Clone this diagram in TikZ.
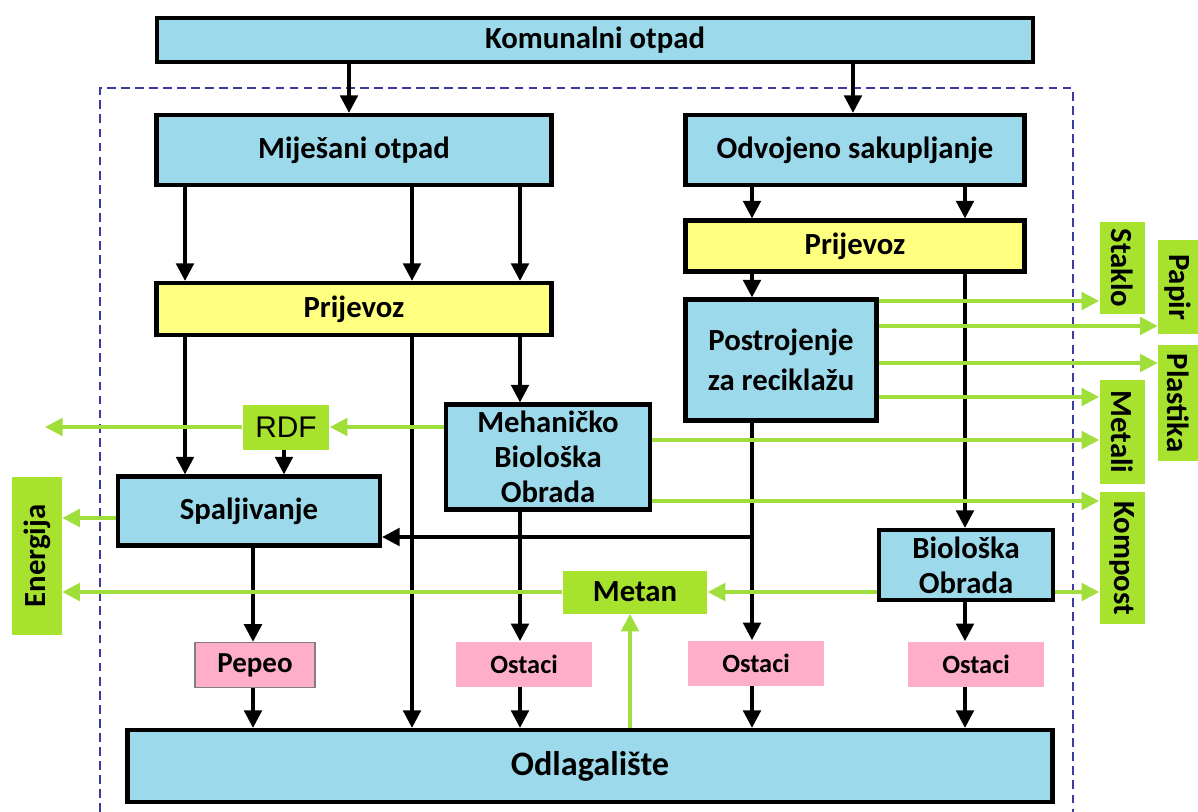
\documentclass[tikz,border=0pt]{standalone}
\usepackage{fontspec}
\setmainfont{Carlito}
\newfontfamily\rdffont{Liberation Sans}
\usetikzlibrary{arrows.meta}
\definecolor{mblue}{RGB}{156,218,235}
\definecolor{myellow}{RGB}{255,255,128}
\definecolor{mgreen}{RGB}{166,226,46}
\definecolor{mgline}{RGB}{160,222,60}
\definecolor{mpink}{RGB}{255,174,201}
\definecolor{mframe}{RGB}{60,60,160}
\tikzset{mbox/.style={draw,line width=2.4pt,fill=mblue,font=\bfseries\fontsize{17.5}{20}\selectfont,align=center,inner sep=0pt}}
\tikzset{mtrans/.style={mbox,fill=myellow}}
\tikzset{mout/.style={fill=mgreen,font=\bfseries\fontsize{17.5}{20}\selectfont,inner sep=0pt}}
\tikzset{mrest/.style={fill=mpink,font=\bfseries\fontsize{15}{17}\selectfont,inner sep=0pt}}
\tikzset{marrow/.style={line width=2pt,-{Triangle[length=10pt,width=10pt]}}}
\tikzset{mgarrow/.style={line width=2pt,mgline,-{Triangle[length=10pt,width=10pt]}}}

\begin{document}
\begin{tikzpicture}[x=0.02cm,y=-0.02cm]
\useasboundingbox (0,0) rectangle (1198,812);
\draw[mframe,line width=1.6pt,dash pattern=on 5pt off 3pt] (100,812) -- (100,88) -- (1073,88) -- (1073,812);

\node[mbox,minimum width=17.52cm,minimum height=0.88cm] (kom) at (595,40) {Komunalni otpad};
\node[mbox,minimum width=7.9cm,minimum height=1.4cm] (mijes) at (354,150) {Miješani otpad};
\node[mbox,minimum width=6.78cm,minimum height=1.4cm] (odvoj) at (855,150) {Odvojeno sakupljanje};
\node[mtrans,minimum width=7.9cm,minimum height=1.04cm] (prijL) at (354,309) {Prijevoz};
\node[mtrans,minimum width=6.78cm,minimum height=1.02cm] (prijR) at (855,246) {Prijevoz};
\node[mbox,minimum width=3.82cm,minimum height=2.42cm,font=\bfseries\fontsize{17.5}{23}\selectfont] (postr) at (781,360) {Postrojenje\\za reciklažu};
\node[mbox,minimum width=4.08cm,minimum height=2.1cm] (mbo) at (548,457) {Mehaničko\\Biološka\\Obrada};
\node[mbox,minimum width=5.24cm,minimum height=1.38cm] (spalj) at (249,511) {Spaljivanje};
\node[mbox,minimum width=3.48cm,minimum height=1.4cm] (bio) at (966,565) {Biološka\\Obrada};
\node[mbox,minimum width=18.5cm,minimum height=1.44cm,font=\bfseries\fontsize{19.5}{22}\selectfont] (odlag) at (590,766) {Odlagalište};

\node[mout,minimum width=1.74cm,minimum height=0.9cm,font=\rdffont\fontsize{17}{20}\selectfont] (rdf) at (286,427) {RDF};
\node[mout,minimum width=2.9cm,minimum height=0.86cm] (metan) at (635,592) {Metan};
\node[mout,minimum width=1.0cm,minimum height=3.16cm] (energ) at (37,556) {\rotatebox{90}{Energija}};
\node[mout,minimum width=0.9cm,minimum height=1.84cm] (staklo) at (1122,268) {\rotatebox{-90}{Staklo}};
\node[mout,minimum width=0.8cm,minimum height=1.9cm] (papir) at (1178,287) {\rotatebox{-90}{Papir}};
\node[mout,minimum width=0.8cm,minimum height=2.34cm] (plast) at (1178,403) {\rotatebox{-90}{Plastika}};
\node[mout,minimum width=0.9cm,minimum height=2.08cm] (metali) at (1122,432) {\rotatebox{-90}{Metali}};
\node[mout,minimum width=0.9cm,minimum height=2.66cm] (kompost) at (1122,558) {\rotatebox{-90}{Kompost}};

\node[mrest,draw=gray,line width=0.8pt,minimum width=2.4cm,minimum height=0.9cm,font=\bfseries\fontsize{16.5}{18}\selectfont] (pepeo) at (255,665) {Pepeo};
\node[mrest,minimum width=2.72cm,minimum height=0.9cm] (ost1) at (524,664) {Ostaci};
\node[mrest,minimum width=2.72cm,minimum height=0.9cm] (ost2) at (756,663) {Ostaci};
\node[mrest,minimum width=2.72cm,minimum height=0.9cm] (ost3) at (976,664) {Ostaci};

% columns and rows of the connectors
\coordinate (xa) at (185,0);
\coordinate (xb) at (412,0);
\coordinate (xc) at (520,0);
\coordinate (xd) at (752,0);
\coordinate (xe) at (965,0);
\coordinate (xk) at (349,0);
\coordinate (xs) at (853,0);
\coordinate (xr) at (284,0);
\coordinate (xp) at (253,0);
\coordinate (xm) at (630,0);
\coordinate (y1) at (0,301);
\coordinate (y2) at (0,326);
\coordinate (y3) at (0,363);
\coordinate (y4) at (0,397);
\coordinate (y5) at (0,440);
\coordinate (y6) at (0,501);
\coordinate (yen) at (0,518);
\coordinate (yin) at (0,537);
\coordinate (rdfout) at (45,427);

\draw[marrow] (kom.south -| xk) -- (mijes.north -| xk);
\draw[marrow] (kom.south -| xs) -- (odvoj.north -| xs);
\foreach \c in {xa,xb,xc}
  \draw[marrow] (mijes.south -| \c) -- (prijL.north -| \c);
\foreach \c in {xd,xe}
  \draw[marrow] (odvoj.south -| \c) -- (prijR.north -| \c);
\draw[marrow] (prijR.south -| xd) -- (postr.north -| xd);
\draw[marrow] (prijR.south -| xe) -- (bio.north -| xe);
\draw[marrow] (prijL.south -| xa) -- (spalj.north -| xa);
\draw[marrow] (prijL.south -| xb) -- (odlag.north -| xb);
\draw[marrow] (prijL.south -| xc) -- (mbo.north -| xc);
\draw[marrow] (rdf.south -| xr) -- (spalj.north -| xr);
\draw[marrow] (postr.south -| xd) -- (ost2.north -| xd);
\draw[marrow] (xd |- yin) -- (spalj.east |- yin);
\draw[marrow] (spalj.south -| xp) -- (pepeo.north -| xp);
\draw[marrow] (mbo.south -| xc) -- (ost1.north -| xc);
\draw[marrow] (bio.south -| xe) -- (ost3.north -| xe);
\foreach \n/\c in {pepeo/xp,ost1/xc,ost2/xd,ost3/xe}
  \draw[marrow] (\n.south -| \c) -- (odlag.north -| \c);

\draw[mgarrow] (mbo.west |- rdf.east) -- (rdf.east);
\draw[mgarrow] (rdf.west) -- (rdfout);
\draw[mgarrow] (spalj.west |- yen) -- (energ.east |- yen);
\draw[mgarrow] (metan.west) -- (energ.east |- metan.west);
\draw[mgarrow] (bio.west |- metan.east) -- (metan.east);
\draw[mgarrow] (bio.east |- metan.east) -- (kompost.west |- metan.east);
\draw[mgarrow] (odlag.north -| xm) -- (metan.south -| xm);
\foreach \r/\n in {y1/staklo,y2/papir,y3/plast,y4/metali}
  \draw[mgarrow] (postr.east |- \r) -- (\n.west |- \r);
\draw[mgarrow] (mbo.east |- y5) -- (metali.west |- y5);
\draw[mgarrow] (mbo.east |- y6) -- (kompost.west |- y6);
\end{tikzpicture}
\end{document}
